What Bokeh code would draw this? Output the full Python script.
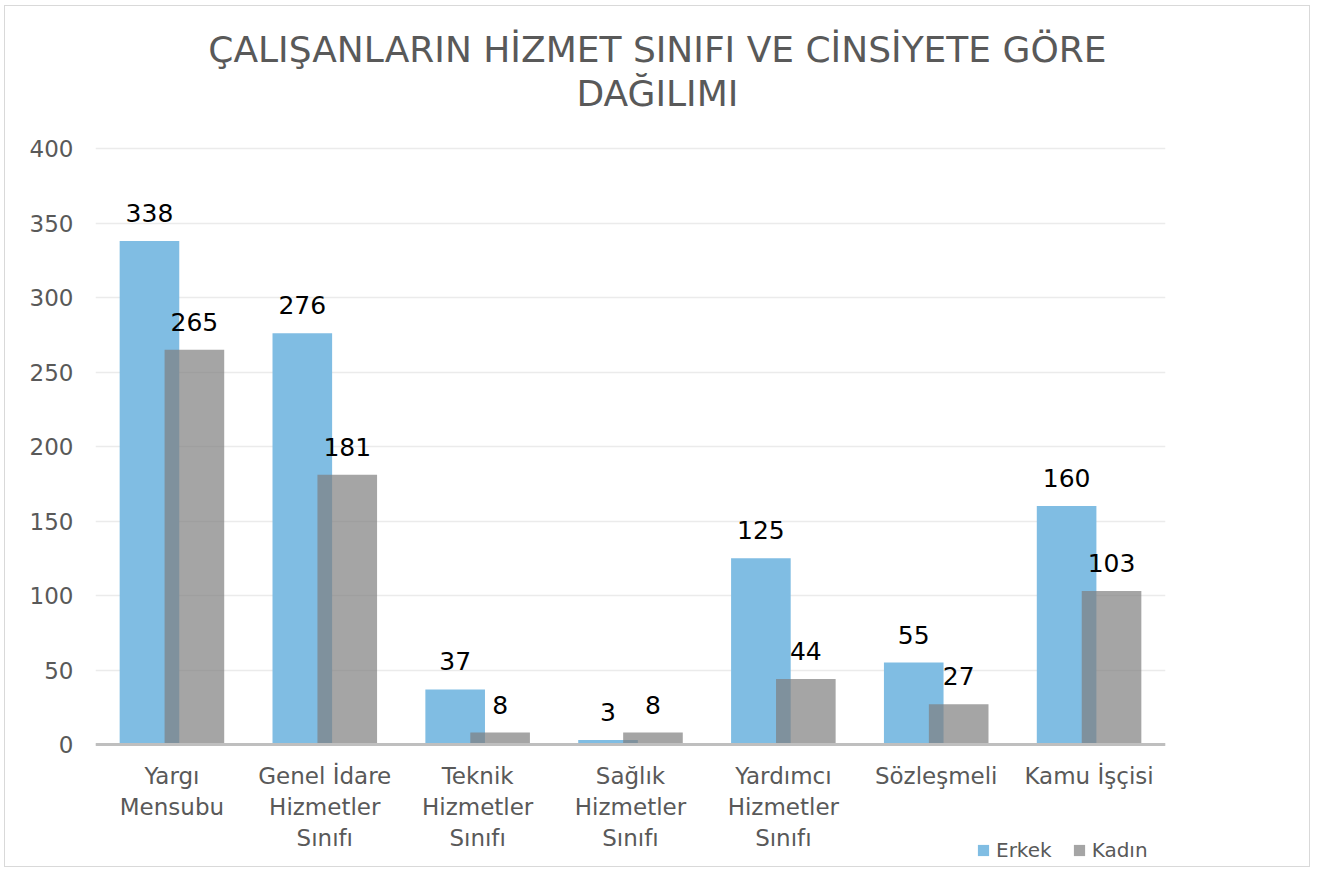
from bokeh.plotting import figure
from bokeh.models import ColumnDataSource, FactorRange, Range1d, LabelSet, Label, Legend, LegendItem, FixedTicker
from bokeh.transform import dodge
from bokeh.core.properties import value
from bokeh.embed import file_html
from bokeh.resources import INLINE

categories = ["Yargı\nMensubu", "Genel İdare\nHizmetler\nSınıfı", "Teknik\nHizmetler\nSınıfı",
              "Sağlık\nHizmetler\nSınıfı", "Yardımcı\nHizmetler\nSınıfı", "Sözleşmeli", "Kamu İşçisi"]
erkek = [338, 276, 37, 3, 125, 55, 160]
kadin = [265, 181, 8, 8, 44, 27, 103]
y_ticks = [0, 50, 100, 150, 200, 250, 300, 350, 400]
series_names = ["Erkek", "Kadın"]
title_line1 = "ÇALIŞANLARIN HİZMET SINIFI VE CİNSİYETE GÖRE"
title_line2 = "DAĞILIMI"

FONT = "DejaVu Sans"
GRAYTXT = "#595959"
BLUE = "#80bde3"

src = ColumnDataSource(dict(cat=categories, erkek=erkek, kadin=kadin,
                            erkek_t=[str(v) for v in erkek], kadin_t=[str(v) for v in kadin]))

# the frame fills the whole height; the category axis sits at y = 0,
# the title and legend are drawn inside the frame above / below the bars
p = figure(x_range=FactorRange(*categories), y_range=Range1d(-83.2, 495.3), title=None,
           width=1306, height=862, output_backend="svg", toolbar_location=None,
           min_border_left=90, min_border_right=146, min_border_top=0, min_border_bottom=0)
p.styles = {"border": "1px solid #d9d9d9", "margin-left": "4px", "margin-top": "5px"}
p.outline_line_color = None

TX = 3.676  # horizontal centre of the title in category units
for txt, ty in ((title_line1, 466.6), (title_line2, 436.6)):
    p.add_layout(Label(x=TX, y=ty, text=txt, text_align="center", text_baseline="alphabetic",
                       text_font=FONT, text_font_size="36px", text_color=GRAYTXT))

OFF = 0.147
W = 0.39
r1 = p.vbar(x=dodge("cat", -OFF, range=p.x_range), top="erkek", bottom=0, width=W, source=src,
            fill_color=BLUE, line_color=None)
r2 = p.vbar(x=dodge("cat", OFF, range=p.x_range), top="kadin", bottom=0, width=W, source=src,
            fill_color="#7f7f7f", fill_alpha=0.7, line_color=None)

for col, off in (("erkek", -OFF), ("kadin", OFF)):
    ls = LabelSet(x=dodge("cat", off, range=p.x_range), y=col, text=col + "_t", source=src,
                  y_offset=19, text_align="center", text_baseline="alphabetic",
                  text_font=value(FONT), text_font_size="25px", text_color="#000000")
    p.add_layout(ls)

p.yaxis.ticker = FixedTicker(ticks=y_ticks)
p.yaxis.axis_line_color = None
p.yaxis.major_tick_line_color = None
p.yaxis.minor_tick_line_color = None
p.yaxis.major_label_standoff = 16
p.yaxis.major_label_text_font = FONT
p.yaxis.major_label_text_font_size = "23px"
p.yaxis.major_label_text_color = GRAYTXT

p.xaxis.fixed_location = 0
p.xaxis.axis_line_color = "#bfbfbf"
p.xaxis.axis_line_width = 3
p.xaxis.major_tick_line_color = None
p.xaxis.minor_tick_line_color = None
p.xaxis.major_label_standoff = 12
p.xaxis.major_label_text_font = FONT
p.xaxis.major_label_text_font_size = "23px"
p.xaxis.major_label_text_color = GRAYTXT

p.xgrid.grid_line_color = None
p.ygrid.grid_line_color = "#ebebeb"
p.ygrid.grid_line_width = 1.5

legend = Legend(items=[LegendItem(label=series_names[0], renderers=[r1]),
                       LegendItem(label=series_names[1], renderers=[r2])],
                location=(881, 6), orientation="horizontal",
                glyph_width=14, glyph_height=14, label_standoff=6, spacing=20,
                padding=0, margin=0, border_line_color=None, background_fill_alpha=0,
                label_text_font=FONT, label_text_font_size="20px", label_text_color=GRAYTXT)
p.add_layout(legend)

open("out.html", "w").write(file_html(p, INLINE))
